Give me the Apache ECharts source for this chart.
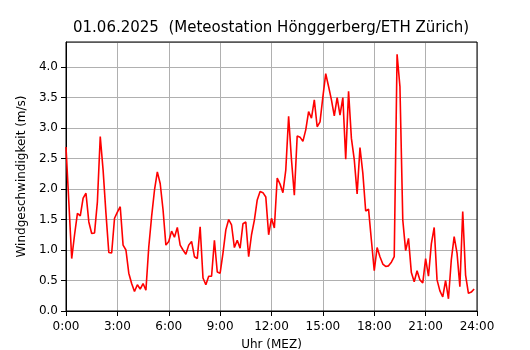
<!DOCTYPE html>
<html>
<head>
<meta charset="utf-8">
<script src="https://cdn.jsdelivr.net/npm/echarts@6/dist/echarts.min.js"></script>
<style>
    html, body { margin: 0; padding: 0; background: #fff; }
    #chart { width: 530px; height: 350px; }
</style>
</head>
<body>
<div id="chart"></div>
<script type="text/javascript">
    // Messwerte alle 10 Minuten, 0:00 bis 23:50
    var stepMinutes = 10;
    var windSpeed = [
        2.69, 1.78, 0.86, 1.25, 1.60, 1.56, 1.85, 1.93, 1.46, 1.27, 1.28, 1.79,
        2.86, 2.31, 1.60, 0.96, 0.95, 1.52, 1.62, 1.71, 1.08, 1.00, 0.62, 0.45,
        0.32, 0.43, 0.36, 0.45, 0.34, 1.05, 1.55, 1.98, 2.28, 2.09, 1.66, 1.08,
        1.14, 1.31, 1.21, 1.37, 1.08, 1.00, 0.93, 1.08, 1.14, 0.89, 0.86, 1.38,
        0.54, 0.43, 0.57, 0.57, 1.16, 0.64, 0.62, 0.95, 1.33, 1.50, 1.41, 1.04,
        1.16, 1.03, 1.43, 1.46, 0.89, 1.25, 1.49, 1.82, 1.96, 1.94, 1.87, 1.25,
        1.52, 1.36, 2.18, 2.08, 1.94, 2.31, 3.19, 2.48, 1.90, 2.87, 2.85, 2.78,
        2.97, 3.27, 3.16, 3.46, 3.02, 3.10, 3.51, 3.89, 3.68, 3.46, 3.20, 3.50,
        3.21, 3.50, 2.49, 3.60, 2.83, 2.48, 1.92, 2.68, 2.26, 1.64, 1.67, 1.16,
        0.66, 1.04, 0.89, 0.77, 0.73, 0.74, 0.80, 0.89, 4.21, 3.68, 1.49, 0.99,
        1.19, 0.63, 0.48, 0.66, 0.51, 0.46, 0.86, 0.57, 1.10, 1.37, 0.51, 0.33,
        0.23, 0.50, 0.20, 0.84, 1.22, 0.95, 0.40, 1.63, 0.59, 0.29, 0.31, 0.36
    ];
    var xTickHours = [0, 3, 6, 9, 12, 15, 18, 21, 24];
    var yTicks = [0.0, 0.5, 1.0, 1.5, 2.0, 2.5, 3.0, 3.5, 4.0];

    var points = windSpeed.map(function (v, i) {
        return [i * stepMinutes, v];
    });

    var font = 'DejaVu Sans';
    var myChart = echarts.init(document.getElementById('chart'));
    myChart.setOption({
        animation: false,
        textStyle: { fontFamily: font, color: '#000' },
        title: {
            text: '01.06.2025  (Meteostation Hönggerberg/ETH Zürich)',
            left: 73,
            top: 21,
            padding: 0,
            textStyle: {
                fontFamily: font,
                fontSize: 15,
                fontWeight: 'normal',
                color: '#000'
            }
        },
        grid: {
            left: 66,
            right: 53,
            top: 42,
            bottom: 39,
            outerBoundsMode: 'none',
            containLabel: false,
            show: true,
            borderColor: '#000',
            borderWidth: 1,
            z: 3
        },
        xAxis: {
            type: 'value',
            min: 0,
            max: 1440,
            interval: 180,
            name: 'Uhr (MEZ)',
            nameLocation: 'middle',
            nameGap: 28,
            nameTextStyle: { fontFamily: font, fontSize: 12, color: '#000' },
            axisLine: { show: true, lineStyle: { color: '#000', width: 1 } },
            axisTick: { show: true, length: 5, lineStyle: { color: '#000' } },
            axisLabel: {
                margin: 10,
                fontFamily: font,
                fontSize: 12,
                color: '#000',
                formatter: function (v) {
                    var h = v / 60;
                    return xTickHours.indexOf(h) >= 0 ? h + ':00' : '';
                }
            },
            splitLine: { show: true, lineStyle: { color: '#b0b0b0', width: 1 } }
        },
        yAxis: {
            type: 'value',
            min: 0,
            max: 4.41,
            interval: 0.5,
            name: 'Windgeschwindigkeit (m/s)',
            nameLocation: 'middle',
            nameGap: 38,
            nameTextStyle: { fontFamily: font, fontSize: 12, color: '#000' },
            axisLine: { show: true, lineStyle: { color: '#000', width: 1 } },
            axisTick: { show: true, length: 5, lineStyle: { color: '#000' } },
            axisLabel: {
                margin: 8,
                fontFamily: font,
                fontSize: 12,
                color: '#000',
                showMaxLabel: false,
                formatter: function (v) {
                    for (var k = 0; k < yTicks.length; k++) {
                        if (Math.abs(yTicks[k] - v) < 1e-6) return yTicks[k].toFixed(1);
                    }
                    return '';
                }
            },
            splitLine: { show: true, lineStyle: { color: '#b0b0b0', width: 1 } }
        },
        series: [
            {
                name: 'Wind',
                type: 'line',
                data: points,
                showSymbol: false,
                symbol: 'none',
                lineStyle: { color: '#ff0000', width: 1.6 },
                z: 4
            }
        ]
    });
</script>
</body>
</html>
